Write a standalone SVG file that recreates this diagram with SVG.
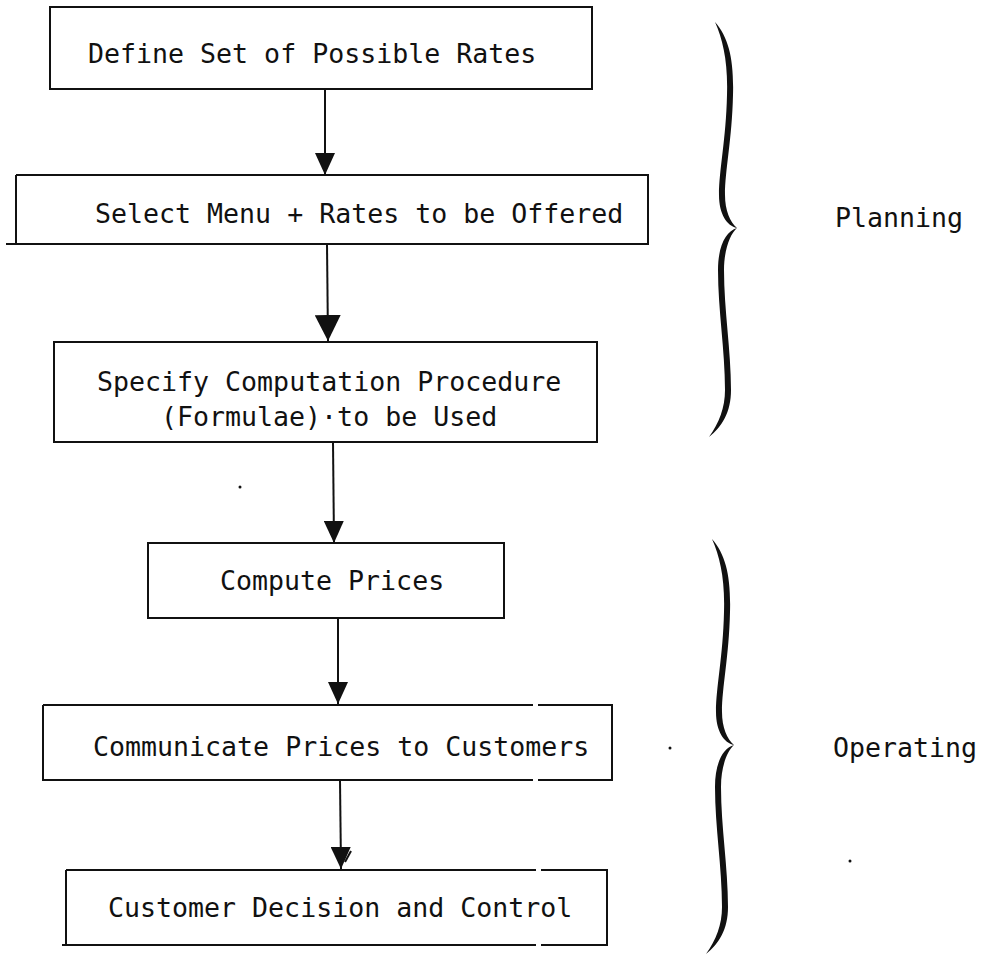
<svg xmlns="http://www.w3.org/2000/svg" xmlns:xlink="http://www.w3.org/1999/xlink" width="986" height="954" viewBox="0 0 986 954">
  <style>
    .box { fill: none; stroke: #111; stroke-width: 2; }
    .lbl { font-family: "DejaVu Sans Mono", "Liberation Mono", monospace; font-size: 26.6px; fill: #111; }
    .wire { fill: none; stroke: #111; stroke-width: 2; }
    .brace { fill: #111; }
    .speck { fill: #111; }
  </style>
  <defs>
    <marker id="head" viewBox="0 0 22 20" refX="22" refY="10" markerWidth="22" markerHeight="20" markerUnits="userSpaceOnUse" orient="auto">
      <path d="M0 0 L22 10 L0 20 Z" fill="#111"/>
    </marker>
    <marker id="headBig" viewBox="0 0 26 26" refX="26" refY="13" markerWidth="26" markerHeight="26" markerUnits="userSpaceOnUse" orient="auto">
      <path d="M0 0 L26 13 L0 26 Z" fill="#111"/>
    </marker>
    <!-- right-facing curly brace, tapered, drawn as a filled outline -->
    <path id="curly" class="brace" d="M715 22 C729 38 734 60 733 95 C732 140 725 170 725 195 C725 210 730 222 737 228 C727 226 719 214 719 195 C719 170 726 140 727 95 C728 62 723 40 715 22 Z M737 228 C730 234 724 250 724 270 C724 310 731 350 731 390 C731 412 722 427 709 437 C719 423 725 408 725 390 C725 350 718 310 718 270 C718 246 726 231 737 228 Z"/>
  </defs>

  <!-- process steps -->
  <g id="define-rates">
    <rect class="box" x="50" y="7" width="542" height="82"/>
    <text class="lbl" x="88" y="63">Define Set of Possible Rates</text>
  </g>
  <g id="select-menu">
    <path class="box" d="M16 175 H648 V244 H6 M16 244 V175"/>
    <text class="lbl" x="95" y="223">Select Menu + Rates to be Offered</text>
  </g>
  <g id="specify-procedure">
    <rect class="box" x="54" y="342" width="543" height="100"/>
    <text class="lbl" x="97" y="391">Specify Computation Procedure</text>
    <text class="lbl" x="161" y="426">(Formulae)·to be Used</text>
  </g>
  <g id="compute-prices">
    <rect class="box" x="148" y="543" width="356" height="75"/>
    <text class="lbl" x="220" y="590">Compute Prices</text>
  </g>
  <g id="communicate-prices">
    <path class="box" d="M43 705 H533 M538 705 H612 V780 H538 M533 780 H43 V705"/>
    <text class="lbl" x="93" y="756">Communicate Prices to Customers</text>
  </g>
  <g id="customer-decision">
    <path class="box" d="M66 870 H536 M541 870 H607 V945 H541 M536 945 H62 M66 945 V870"/>
    <text class="lbl" x="108" y="917">Customer Decision and Control</text>
  </g>

  <!-- flow connectors -->
  <g id="connectors">
    <path class="wire" d="M325 89 V175" marker-end="url(#head)"/>
    <path class="wire" d="M327 244 L328 341" marker-end="url(#headBig)"/>
    <path class="wire" d="M333 442 L334 543" marker-end="url(#head)"/>
    <path class="wire" d="M338 618 V704" marker-end="url(#head)"/>
    <path class="wire" d="M340 780 L341 869" marker-end="url(#head)"/>
    <path class="wire" d="M345 862 L351 851"/>
  </g>

  <!-- phase groupings -->
  <g id="planning-phase">
    <use xlink:href="#curly" href="#curly"/>
    <text class="lbl" x="835" y="227">Planning</text>
  </g>
  <g id="operating-phase">
    <use xlink:href="#curly" href="#curly" transform="translate(-3 517)"/>
    <text class="lbl" x="833" y="757">Operating</text>
  </g>

  <!-- loose specks on the sheet -->
  <circle class="speck" cx="240" cy="487" r="1.5"/>
  <circle class="speck" cx="670" cy="748" r="1.5"/>
  <circle class="speck" cx="850" cy="861" r="1.5"/>
</svg>
